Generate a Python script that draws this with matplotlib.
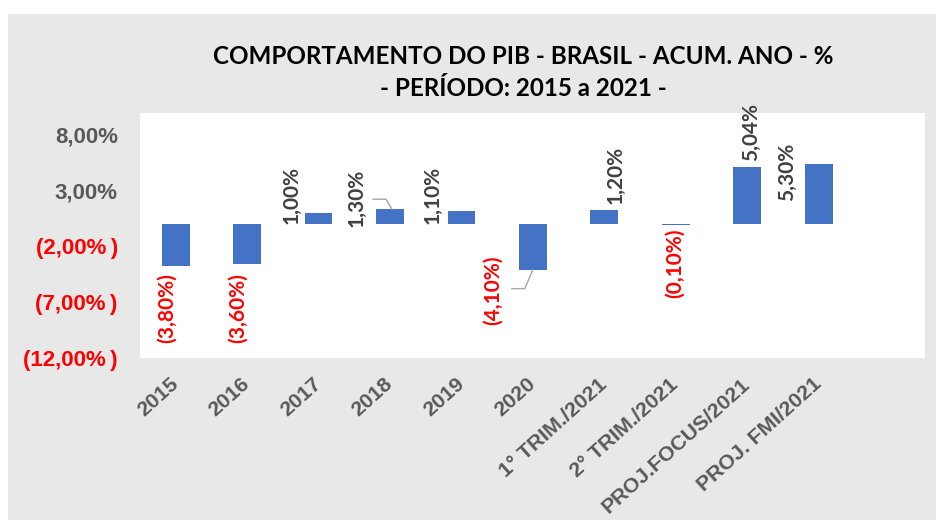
import matplotlib.pyplot as plt
import matplotlib.patches as patches
import numpy as np

# data
categories = ['2015', '2016', '2017', '2018', '2019', '2020',
              '1° TRIM./2021', '2° TRIM./2021', 'PROJ.FOCUS/2021', 'PROJ. FMI/2021']
values = [-3.80, -3.60, 1.00, 1.30, 1.10, -4.10, 1.20, -0.10, 5.04, 5.30]
y_ticks = [-12, -7, -2, 3, 8]

# label offsets in pixels from the bar end (dx, dy), hand-placed like in Excel
label_offsets = [(-9, -7), (-9, -9), (-27, -11), (-33, -18), (-29, -13),
                 (-40, 14), (11, 6), (-1, -4), (4, 6), (-32, -37)]
# leader lines (pixel offsets from bar end)
leaders = {3: [(-17, 10), (-4, 10), (2, 0)],
           5: [(0, 0), (-8, -19), (-21, -19)]}

BLUE = '#4472C4'
GRAY_TXT = '#595959'
RED = '#FF0000'
BG = '#e8e8e8'


def fmt_pct(v):
    s = f'{abs(v):.2f}'.replace('.', ',') + '%'
    return f'({s})' if v < 0 else s


def fmt_tick(v):
    s = f'{abs(v):.2f}'.replace('.', ',') + '%'
    return f'({s}\u2009)' if v < 0 else s


W, H = 936, 520
fig = plt.figure(figsize=(W / 100, H / 100), dpi=100, facecolor='white')

# gray chart area background
fig.patches.append(patches.Rectangle((8 / W, 0), 1 - 8 / W, (H - 14) / H,
                                     transform=fig.transFigure, facecolor=BG,
                                     edgecolor='none', zorder=-10))

ax = fig.add_axes([140 / W, (H - 358) / H, (925 - 140) / W, (358 - 113) / H])
ax.set_facecolor('white')

x = np.arange(len(categories))
ax.bar(x, values, width=0.39, color=BLUE, zorder=2)

ax.set_xlim(-0.5, 10.49)
ax.set_ylim(-12, 9.9)
for s in ax.spines.values():
    s.set_visible(False)

ax.set_yticks(y_ticks)
ax.set_yticklabels([fmt_tick(v) for v in y_ticks], family='Liberation Sans',
                   fontweight='bold', fontsize=16)
for lbl, v in zip(ax.get_yticklabels(), y_ticks):
    lbl.set_color(RED if v < 0 else GRAY_TXT)
ax.tick_params(axis='y', length=0, pad=16)

ax.set_xticks(x)
ax.set_xticklabels(categories, rotation=42, ha='right', va='center',
                   rotation_mode='anchor', family='Liberation Sans',
                   fontweight='bold', fontsize=15.3, color=GRAY_TXT)
ax.tick_params(axis='x', length=0, pad=17)

# data labels
for i, v in enumerate(values):
    dx, dy = label_offsets[i]
    ax.annotate(fmt_pct(v), (i, v), xytext=(dx, dy), textcoords='offset pixels',
                rotation=90, ha='center', va='top' if v < 0 else 'bottom',
                color=RED if v < 0 else '#404040', fontsize=15,
                family='Lato', fontweight='bold', zorder=3)

# leader lines
inv = ax.transData.inverted()
for i, pts in leaders.items():
    bx, by = ax.transData.transform((i, values[i]))
    xy = inv.transform([(bx + px, by + py) for px, py in pts])
    ax.plot(xy[:, 0], xy[:, 1], color='#a6a6a6', lw=1, zorder=3)

# title
fig.text(523 / W, 1 - 57 / H, 'COMPORTAMENTO DO PIB - BRASIL - ACUM. ANO - %',
         ha='center', va='center', family='Lato', fontweight='bold', fontsize=17.4)
fig.text(523 / W, 1 - 88 / H, '- PERÍODO: 2015 a 2021 -',
         ha='center', va='center', family='Lato', fontweight='bold', fontsize=17.4)

fig.savefig('out.png', dpi=100, facecolor='white')
